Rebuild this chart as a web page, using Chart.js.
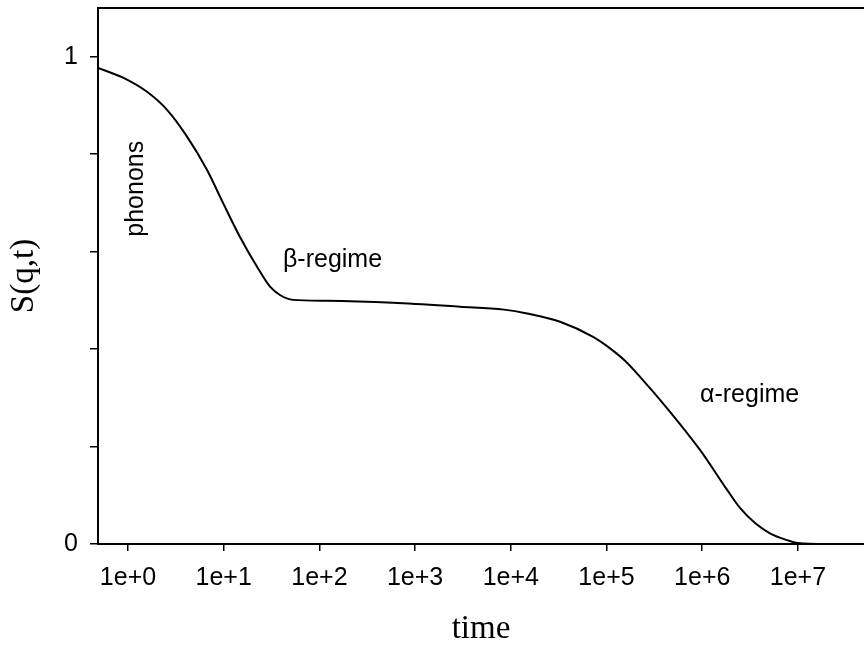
<!DOCTYPE html>
<html>
<head>
<meta charset="utf-8">
<script src="https://cdn.jsdelivr.net/npm/chart.js@4"></script>
<style>
  html, body { margin: 0; padding: 0; background: #fff; }
  #wrap { width: 864px; height: 647px; }
</style>
</head>
<body>
<div id="wrap"><canvas id="chart" width="864" height="647"></canvas></div>
<script>
// curve (time, S(q,t))
const times = [0.486, 0.887, 1.58, 2.56, 4.14, 6.68, 9.84, 14.8, 22.3, 30.5, 38.7, 53,
               120, 587, 2940, 8500, 14800, 32700, 72300, 108000, 156000, 224000, 428000, 948000,
               1820000, 2480000, 3560000, 5100000, 7690000, 10000000, 20000000, 49000000];
const sValues = [0.977, 0.957, 0.928, 0.891, 0.836, 0.768, 0.700, 0.630, 0.569, 0.528, 0.511, 0.501,
                 0.499, 0.495, 0.487, 0.481, 0.473, 0.456, 0.425, 0.402, 0.376, 0.343, 0.279, 0.193,
                 0.111, 0.074, 0.043, 0.022, 0.008, 0.002, 0, 0];

const xTickValues = [1, 10, 100, 1000, 10000, 100000, 1000000, 10000000];
const xTickLabels = ['1e+0', '1e+1', '1e+2', '1e+3', '1e+4', '1e+5', '1e+6', '1e+7'];
const yTickLabels = { 0: '0', 1: '1' };

// text notes placed in data space
const noteLabels = ['phonons', 'β-regime', 'α-regime'];
const noteTimes = [1.43, 41.6, 947000];
const noteValues = [0.729, 0.569, 0.292];
const noteAngles = [-90, 0, 0];

const sans = '"Liberation Sans", Arial, Helvetica, sans-serif';
const serif = '"Liberation Serif", "Times New Roman", serif';

const notesPlugin = {
    id: 'notes',
    afterDatasetsDraw(chart) {
        const { ctx, scales: { x, y } } = chart;
        ctx.save();
        ctx.font = '25px ' + sans;
        ctx.fillStyle = '#000';
        ctx.textBaseline = 'alphabetic';
        noteLabels.forEach((txt, i) => {
            const px = x.getPixelForValue(noteTimes[i]);
            const py = y.getPixelForValue(noteValues[i]);
            ctx.save();
            ctx.translate(px, py);
            if (noteAngles[i]) {
                ctx.rotate(noteAngles[i] * Math.PI / 180);
                ctx.textAlign = 'center';
            } else {
                ctx.textAlign = 'left';
            }
            ctx.fillText(txt, 0, 0);
            ctx.restore();
        });
        ctx.restore();
    }
};

const ctx = document.getElementById('chart').getContext('2d');
new Chart(ctx, {
    type: 'line',
    data: {
        datasets: [{
            data: times.map((t, i) => ({ x: t, y: sValues[i] })),
            borderColor: '#000',
            borderWidth: 2,
            pointRadius: 0,
            fill: false,
            cubicInterpolationMode: 'monotone'
        }]
    },
    options: {
        responsive: false,
        animation: false,
        layout: { padding: { top: 8, left: 0, right: 0, bottom: 0 } },
        plugins: { legend: { display: false }, tooltip: { enabled: false } },
        scales: {
            x: {
                type: 'logarithmic',
                position: 'bottom',
                min: 0.486,
                max: 49000000,
                afterBuildTicks: scale => {
                    scale.ticks = xTickValues.map(v => ({ value: v }));
                },
                afterFit: scale => {
                    scale.height = 103;
                    scale.paddingLeft = 0;
                    scale.paddingRight = 0;
                },
                grid: { drawOnChartArea: false, drawTicks: true, tickLength: 7, color: '#000', lineWidth: 1.5 },
                border: { display: true, color: '#000', width: 2 },
                ticks: {
                    color: '#000',
                    font: { family: sans, size: 25 },
                    padding: 12,
                    maxRotation: 0,
                    autoSkip: false,
                    callback: (value, index) => xTickLabels[index]
                },
                title: {
                    display: true,
                    text: 'time',
                    color: '#000',
                    font: { family: serif, size: 33, lineHeight: 1 },
                    padding: { top: 0, bottom: 1 }
                }
            },
            top: {
                type: 'linear',
                position: 'top',
                display: true,
                afterFit: scale => {
                    scale.height = 0;
                    scale.paddingLeft = 0;
                    scale.paddingRight = 0;
                },
                grid: { display: false },
                border: { display: true, color: '#000', width: 2 },
                ticks: { display: false }
            },
            y: {
                type: 'linear',
                min: 0,
                max: 1.1,
                afterFit: scale => {
                    scale.width = 98;
                    scale.paddingTop = 0;
                    scale.paddingBottom = 0;
                },
                grid: { drawOnChartArea: false, drawTicks: true, tickLength: 8, color: '#000', lineWidth: 1.5 },
                border: { display: true, color: '#000', width: 2 },
                ticks: {
                    stepSize: 0.2,
                    includeBounds: false,
                    color: '#000',
                    font: { family: sans, size: 25 },
                    padding: 12,
                    callback: value => {
                        const k = Math.round(value * 10) / 10;
                        return yTickLabels[k] !== undefined ? yTickLabels[k] : '';
                    }
                },
                title: {
                    display: true,
                    text: 'S(q,t)',
                    color: '#000',
                    font: { family: serif, size: 33, lineHeight: 1 },
                    padding: { top: 8, bottom: 0 }
                }
            }
        }
    },
    plugins: [notesPlugin]
});
</script>
</body>
</html>
